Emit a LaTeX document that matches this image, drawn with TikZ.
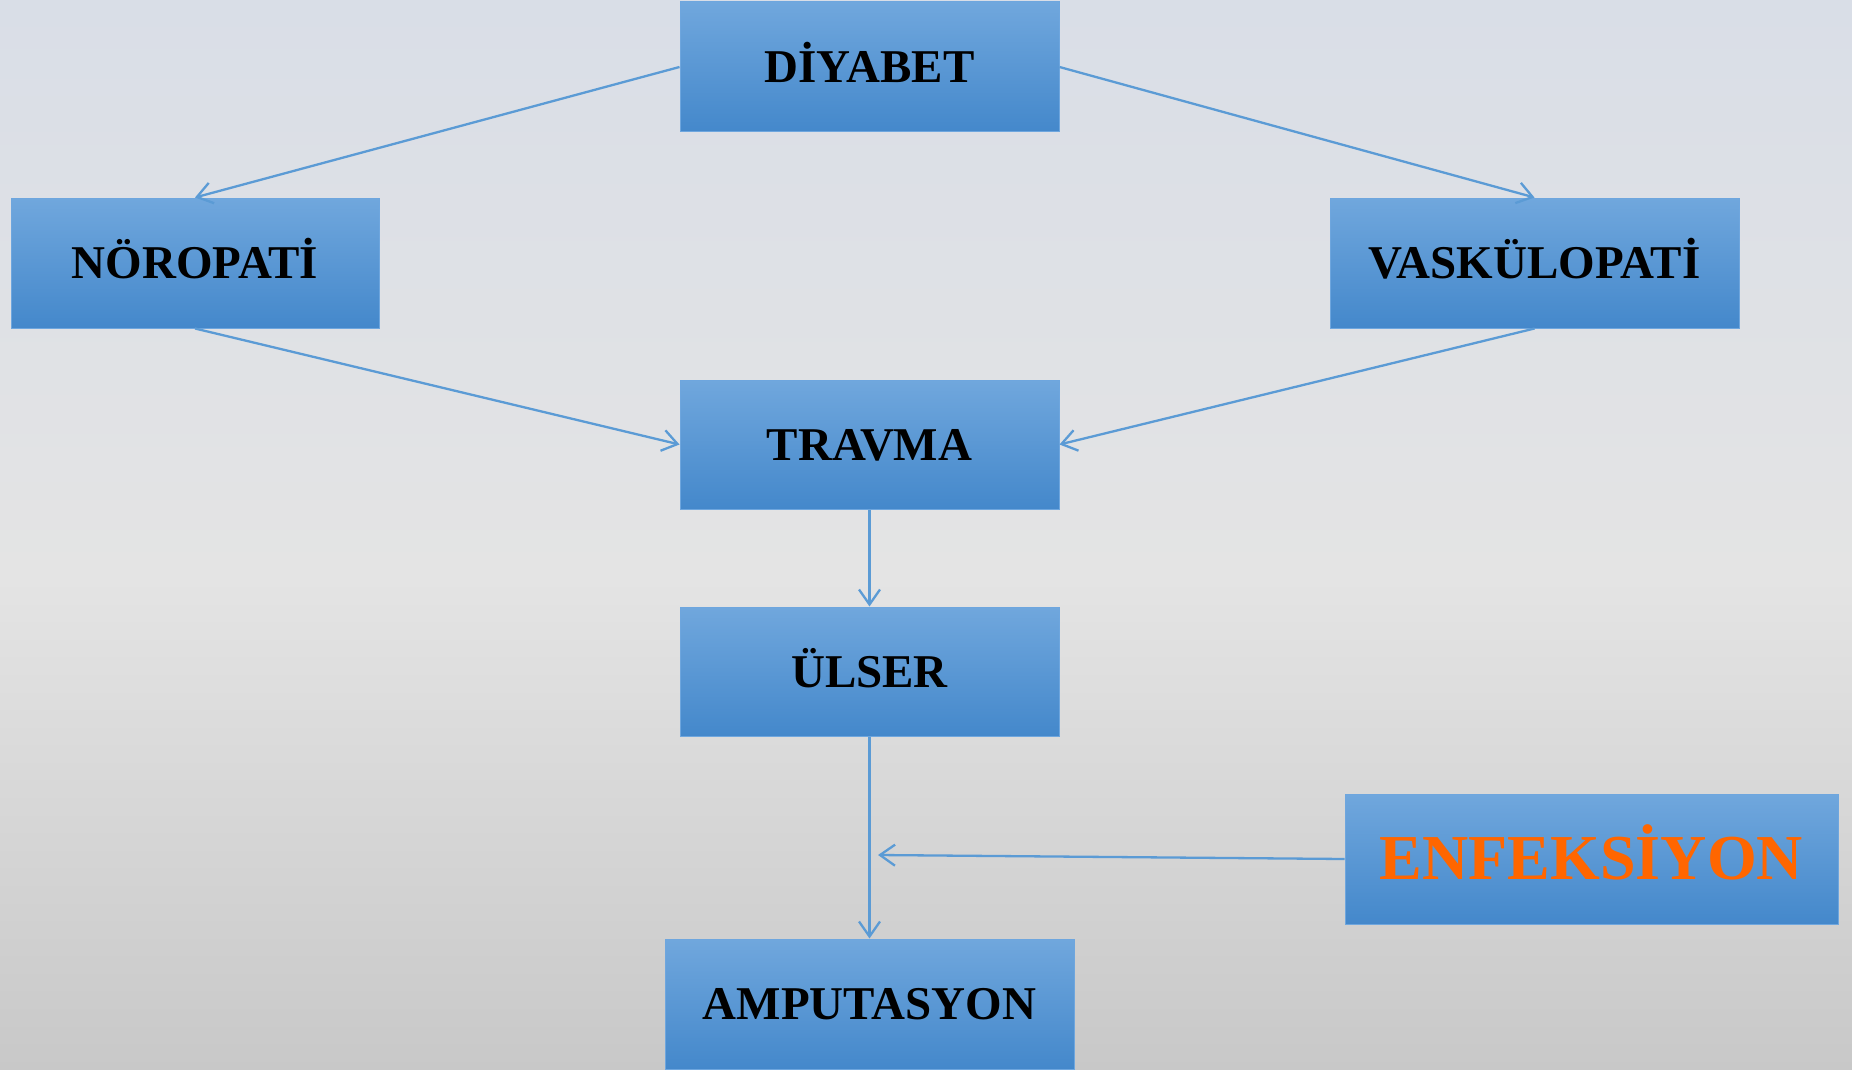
\documentclass[tikz,border=0pt]{standalone}
\usepackage{fontspec}
\setmainfont{Liberation Serif}
\usetikzlibrary{arrows.meta}
\definecolor{lineblue}{RGB}{91,155,213}
\definecolor{boxtop}{RGB}{112,167,221}
\definecolor{boxmid}{RGB}{85,154,219}
\definecolor{boxbot}{RGB}{68,136,203}
\definecolor{boxedge}{RGB}{110,166,222}
\definecolor{bgtop}{RGB}{217,222,231}
\definecolor{bgmid}{RGB}{228,228,228}
\definecolor{bgbot}{RGB}{200,200,200}
\definecolor{orangetext}{RGB}{255,102,0}
\pgfdeclareverticalshading{bgshade}{100bp}{color(0bp)=(bgbot); color(25bp)=(bgbot); color(48bp)=(bgmid); color(75bp)=(bgtop); color(100bp)=(bgtop)}
\tikzset{
  flowbox/.style={rectangle, draw=boxedge, line width=1pt,
    top color=boxtop, middle color=boxmid, bottom color=boxbot,
    inner sep=0pt, align=center,
    font=\fontsize{47}{50}\selectfont\bfseries,
    text height=31pt, text depth=0pt},
  conn/.style={draw=lineblue, line width=2.3pt,
    -{Straight Barb[length=15pt,width=21pt,line width=2.3pt]}}
}
\begin{document}
\begin{tikzpicture}[x=1pt,y=-1pt]
\shade[shading=bgshade] (0,0) rectangle (1852,1070);
\useasboundingbox (0,0) rectangle (1852,1070);

\node[flowbox, minimum width=379pt, minimum height=130pt] (d) at (869.5,67) {DİYABET};
\node[flowbox, minimum width=368pt, minimum height=130pt] (n) at (195,263) {NÖROPATİ};
\node[flowbox, minimum width=409pt, minimum height=130pt] (v) at (1534.5,263) {VASKÜLOPATİ};
\node[flowbox, minimum width=379pt, minimum height=129pt] (t) at (869.5,444.5) {TRAVMA};
\node[flowbox, minimum width=379pt, minimum height=129pt] (u) at (869.5,671.5) {ÜLSER};
\node[flowbox, minimum width=493pt, minimum height=130pt, text=orangetext,
      font=\fontsize{64}{67}\selectfont\bfseries, text height=41pt] (e) at (1591.5,859) {ENFEKSİYON};
\node[flowbox, minimum width=409pt, minimum height=130pt] (a) at (869.5,1004) {AMPUTASYON};

\coordinate (join) at (878,855);

\draw[conn] (d.west) -- (n.north);
\draw[conn] (d.east) -- (v.north);
\draw[conn] (n.south) -- (t.west);
\draw[conn] (v.south) -- (t.east);
\draw[conn] (t.south) -- (u.north);
\draw[conn] (u.south) -- (a.north);
\draw[conn] (e.west) -- (join);
\end{tikzpicture}
\end{document}
